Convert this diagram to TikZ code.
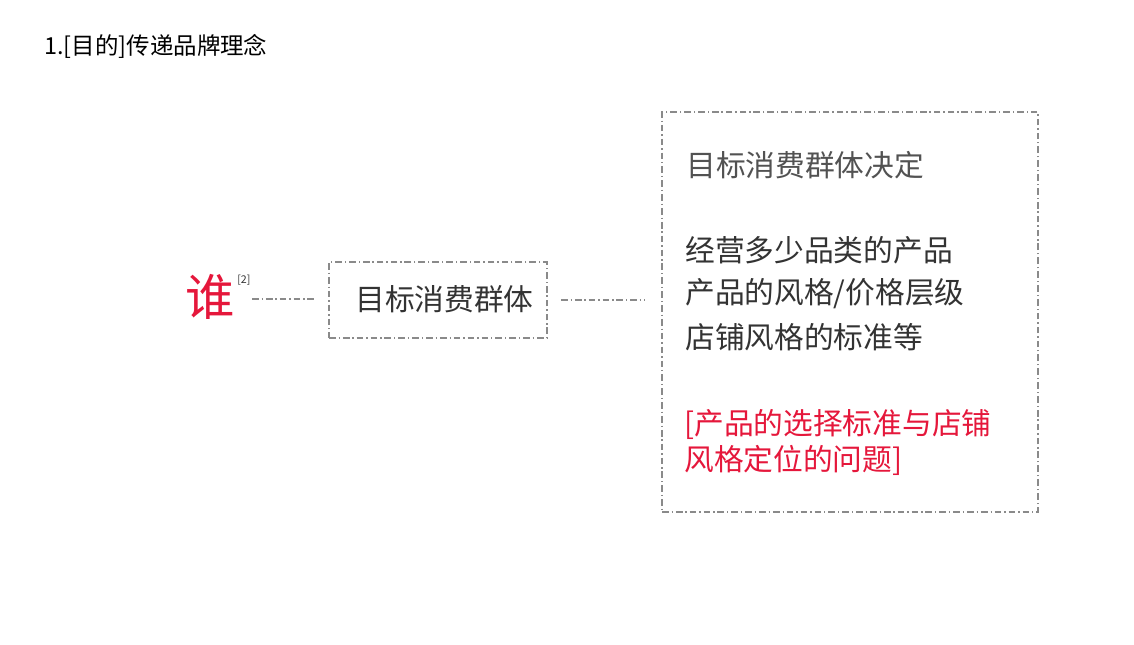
\documentclass[tikz,border=0pt]{standalone}
\usepackage{fontspec}
\setmainfont{Noto Sans CJK SC}
\definecolor{myred}{HTML}{E5173B}
\definecolor{mytext}{HTML}{333333}
\definecolor{mygray}{HTML}{8A8A8A}
\begin{document}
\begin{tikzpicture}[x=0.75pt,y=-0.75pt,
  dd/.style={draw=mygray,line width=0.8pt,dash pattern=on 5pt off 2.2pt on 1pt off 2.2pt},
  txt/.style={inner sep=0pt,anchor=west,text=mytext,font=\fontsize{22.3pt}{26pt}\selectfont},
  redtxt/.style={txt,text=myred}]
\useasboundingbox (0,0) rectangle (1134,645);
\node[anchor=west,inner sep=0pt,text=black,font=\fontsize{17.6pt}{20pt}\selectfont] (title) at (44,46) {1.[目的]传递品牌理念};
\node[inner sep=0pt,text=myred,font=\fontsize{37pt}{40pt}\selectfont] (who) at (210,297) {谁};
\node[inner sep=0pt,anchor=west,text=mytext,font=\fontsize{8pt}{9pt}\selectfont] (ref) at (237,280) {[2]};
\node[dd,minimum width=218*0.75pt,minimum height=76*0.75pt,inner sep=0pt] (b1) at (438,300) {};
\node[txt] (b1t) at (355,299) {目标消费群体};
\node[dd,minimum width=376*0.75pt,minimum height=400*0.75pt,inner sep=0pt] (b2) at (850,312) {};
\coordinate (l1s) at (252,299);
\coordinate (l1e) at (315,299);
\coordinate (l2s) at (561,300);
\coordinate (l2e) at (645,300);
\draw[dd] (l1s) -- (l1e);
\draw[dd] (l2s) -- (l2e);
\node[txt,text=mytext!85!white] (h) at (686,165) {目标消费群体决定};
\node[txt] (a1) at (685,250) {经营多少品类的产品};
\node[txt] (a2) at (685,294) {产品的风格/价格层级};
\node[txt] (a3) at (685,337) {店铺风格的标准等};
\node[redtxt] (r1) at (684,424) {[产品的选择标准与店铺};
\node[redtxt] (r2) at (684,460) {风格定位的问题]};
\end{tikzpicture}
\end{document}
